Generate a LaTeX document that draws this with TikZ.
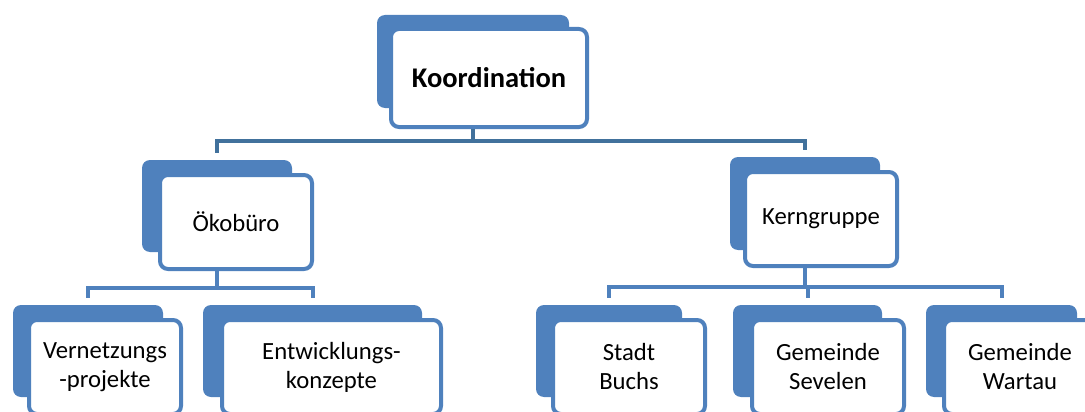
\documentclass[tikz,border=0pt]{standalone}
\usepackage{fontspec}
\setmainfont{Carlito}
\usepackage{xcolor}
\definecolor{smartblue}{HTML}{4F81BD}
\definecolor{linkblue}{HTML}{41719C}

\begin{document}
\begin{tikzpicture}[
    x=1pt, y=-1pt,
    boxback/.style={fill=smartblue, rounded corners=8pt, minimum width=#1, minimum height=92pt, inner sep=0pt},
    boxfront/.style={draw=smartblue, line width=4pt, fill=white, rounded corners=8pt, minimum width=#1, minimum height=94pt, inner sep=0pt, align=center, font=\fontsize{24.7}{29}\selectfont},
    toplink/.style={draw=linkblue, line width=4pt, shorten >=7pt},
    sublink/.style={draw=smartblue, line width=4pt, shorten >=7pt}
]
\useasboundingbox (0,0) rectangle (1085,412);
\clip (0,0) rectangle (1085,412);

% top level
\node[boxback=192pt, minimum height=93pt] (koordB) at (473,61.5) {};
\node[boxfront=196pt, minimum height=98pt, font=\fontsize{28.5}{33}\selectfont\bfseries] (koord) at (489,78) {Koordination};

% second level
\node[boxback=150pt] (oekoB) at (217,206) {};
\node[boxfront=152pt] (oeko) at (236,222) {Ökobüro};

\node[boxback=150pt, minimum height=93pt] (kernB) at (805,203.5) {};
\node[boxfront=152pt] (kern) at (821,219) {Kerngruppe};

% third level
\node[boxback=150pt] (vernB) at (88,351) {};
\node[boxfront=152pt] (vern) at (105,367) {Vernetzungs\\-projekte};

\node[boxback=219pt] (entwB) at (312.5,351) {};
\node[boxfront=219pt] (entw) at (331.5,367) {Entwicklungs-\\konzepte};

\node[boxback=146pt] (stadtB) at (609,351) {};
\node[boxfront=152pt] (stadt) at (629,367) {Stadt\\Buchs};

\node[boxback=149pt] (sevB) at (807.5,351) {};
\node[boxfront=152pt] (sev) at (828,367) {Gemeinde\\Sevelen};

\node[boxback=151pt] (wartB) at (1001.5,351) {};
\node[boxfront=152pt] (wart) at (1020,367) {Gemeinde\\Wartau};

% connectors
\draw[toplink] (koordB.south |- koord.south) -- ++(0,12) -| (oekoB.north);
\draw[toplink] (koordB.south |- koord.south) -- ++(0,12) -| (kernB.north);

\draw[sublink] (oekoB.south |- oeko.south) -- ++(0,17) -| (vernB.north);
\draw[sublink] (oekoB.south |- oeko.south) -- ++(0,17) -| (entwB.north);

\draw[sublink] (kernB.south |- kern.south) -- ++(0,19) -| (stadtB.north);
\draw[sublink] (kernB.south |- kern.south) -- ++(0,19) -| (sevB.north);
\draw[sublink] (kernB.south |- kern.south) -- ++(0,19) -| (wartB.north);
\end{tikzpicture}
\end{document}
